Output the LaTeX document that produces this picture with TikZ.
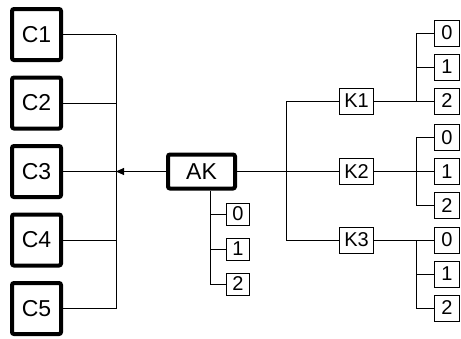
\documentclass[tikz,border=0pt]{standalone}
\usepackage{fontspec}
\setmainfont{Liberation Sans}
\usetikzlibrary{arrows.meta}
\tikzset{
  bigbox/.style={draw, line width=4pt, rounded corners=2pt, minimum width=49pt, minimum height=51pt, inner sep=0pt, font=\fontsize{23}{26}\selectfont},
  akbox/.style={bigbox, minimum width=67pt, minimum height=34pt},
  kbox/.style={draw, line width=1pt, minimum width=34pt, minimum height=26pt, inner sep=0pt, font=\fontsize{20}{22}\selectfont},
  digitbox/.style={draw, line width=1pt, minimum width=23pt, minimum height=22pt, inner sep=0pt, font=\fontsize{20}{22}\selectfont},
  subbox/.style={digitbox, minimum width=25pt, minimum height=26pt},
  wire/.style={line width=1pt}
}
\begin{document}
\begin{tikzpicture}[x=1pt,y=-1pt]
\useasboundingbox (0,0) rectangle (461,338);
\pgfmathsetmacro\cstep{68.5};
\foreach \n in {1,...,5} \node[bigbox] (C\n) at (36.5,34.5+\cstep*\n-\cstep) {C\n};
\coordinate (cbus) at (116,171.5);
\foreach \n in {1,...,5} \draw[wire] (C\n.east) -- (C\n.east -| cbus);
\draw[wire] (C1.east -| cbus) -- (C5.east -| cbus);
\node[akbox] (AK) at (201.5,171.5) {AK};
\draw[wire, -{Triangle[length=8pt,width=7pt]}] (AK.west) -- (cbus);
\coordinate (akdrop) at (210,171.5);
\foreach \n in {0,1,2} \node[digitbox] (A\n) at (238,214+35*\n) {\n};
\draw[wire] (akdrop |- AK.south) -- (akdrop |- A2.west);
\foreach \n in {0,1,2} \draw[wire] (akdrop |- A\n.west) -- (A\n.west);
\node[kbox] (K1) at (356.5,101) {K1};
\node[kbox] (K2) at (356.5,171.5) {K2};
\node[kbox] (K3) at (356.5,240) {K3};
\coordinate (kbus) at (286,171.5);
\draw[wire] (AK.east) -- (K2.west);
\draw[wire] (kbus |- K1.west) -- (kbus |- K3.west);
\draw[wire] (kbus |- K1.west) -- (K1.west);
\draw[wire] (kbus |- K3.west) -- (K3.west);
\coordinate (ksub) at (416,0);
\foreach \k/\top in {1/33, 2/137.5, 3/240} {
  \foreach \n in {0,1,2} \node[subbox] (K\k-\n) at (447,\top+34*\n) {\n};
  \draw[wire] (ksub |- K\k-0.west) -- (ksub |- K\k-2.west);
  \foreach \n in {0,1,2} \draw[wire] (ksub |- K\k-\n.west) -- (K\k-\n.west);
  \draw[wire] (K\k.east) -- (ksub |- K\k.east);
}
\end{tikzpicture}
\end{document}
